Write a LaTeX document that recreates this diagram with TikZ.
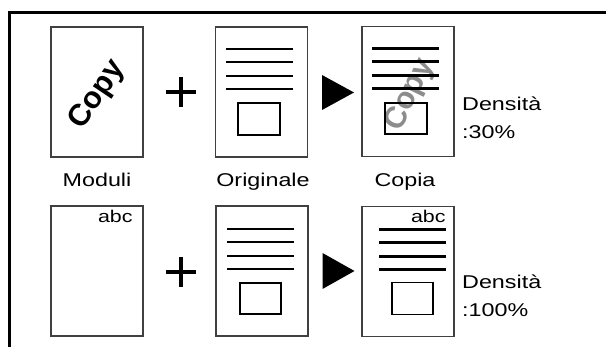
\documentclass[tikz,border=0pt]{standalone}
\usepackage{fontspec}
\setmainfont{Liberation Sans}
\newfontfamily\widesans{Liberation Sans}[FakeStretch=1.26]
\definecolor{edge}{HTML}{404040}
\definecolor{ghost}{HTML}{8C8C8C}

\begin{document}
\begin{tikzpicture}[x=1pt,y=-1pt,
    page/.style={draw=edge,line width=1.5pt,minimum width=92pt,minimum height=130pt,inner sep=0pt},
    caption/.style={font=\widesans\fontsize{18.5}{28}\selectfont,inner sep=0pt,anchor=base},
    stampfont/.style={font=\bfseries\fontsize{30.5}{31}\selectfont,inner sep=0pt},
    textline/.style={line width=2.2pt},
    imgbox/.style={draw=black,line width=1.7pt},
    plussign/.style={line width=4pt}]
    \useasboundingbox (0,0) rectangle (606,347);
    \draw[line width=3pt] (9,350) -- (9,12.5) -- (608,12.5);

    % upper row: watermark at 30%
    \node[page] (mod1) at (97,92) {};
    \node[stampfont,rotate=56] (stamp1) at (97.5,95) {Copy};
    \node[page] (orig1) at (261.5,92) {};
    \node[page] (copy1) at (408,91.5) {};
    \node[stampfont,rotate=64,text=ghost] (stamp2) at (410,95) {Copy};
    \foreach \dy in {-43,-30,-16,-3} {
      \draw[textline] ([shift={(-35.5,\dy)}]orig1.center) -- ++(67,0);
      \draw[textline] ([shift={(-36,\dy)}]copy1.center) -- ++(67,0);
    }
    \draw[imgbox] ([shift={(-23.5,11)}]orig1.center) rectangle ++(42,32);
    \draw[imgbox] ([shift={(-23,11.5)}]copy1.center) rectangle ++(42,31);
    \node (plus1) at (181,92) {};
    \draw[plussign] (plus1.center) ++(-15,0) -- ++(30,0);
    \draw[plussign] (plus1.center) ++(0,-15) -- ++(0,30);
    \node (arr1) at (338,92.5) {};
    \fill (arr1.center) ++(-16,-17.5) -- ++(32,17.5) -- ++(-32,17.5) -- cycle;
    \node[caption] (lmod) at (97,187) {Moduli};
    \node[caption] (lorig) at (263,187) {Originale};
    \node[caption] (lcopy) at (405,187) {Copia};
    \node[caption,anchor=base west,align=left] (dens1) at (462,139) {Densità\\:30\%};

    % lower row: form at 100%
    \node[page] (mod2) at (97,271) {};
    \node[page] (orig2) at (262,271) {};
    \node[page] (copy2) at (408,271.5) {};
    \node[caption,font=\widesans\fontsize{17}{17}\selectfont,anchor=base east] (abc1) at ([shift={(-11,17)}]mod2.north east) {abc};
    \node[caption,font=\widesans\fontsize{17}{17}\selectfont,anchor=base east] (abc2) at ([shift={(-9,16.5)}]copy2.north east) {abc};
    \foreach \dy in {-42,-29,-15,-2} {
      \draw[textline] ([shift={(-35,\dy)}]orig2.center) -- ++(67,0);
      \draw[textline] ([shift={(-29,\dy)}]copy2.center) -- ++(67,0);
    }
    \draw[imgbox] ([shift={(-22,12)}]orig2.center) rectangle ++(41,31);
    \draw[imgbox] ([shift={(-16,11)}]copy2.center) rectangle ++(41,32);
    \node (plus2) at (181,272) {};
    \draw[plussign] (plus2.center) ++(-15,0) -- ++(30,0);
    \draw[plussign] (plus2.center) ++(0,-15) -- ++(0,30);
    \node (arr2) at (338.5,271) {};
    \fill (arr2.center) ++(-16,-18) -- ++(32,18) -- ++(-32,18) -- cycle;
    \node[caption,anchor=base west,align=left] (dens2) at (462,317) {Densità\\:100\%};
  \end{tikzpicture}
\end{document}
